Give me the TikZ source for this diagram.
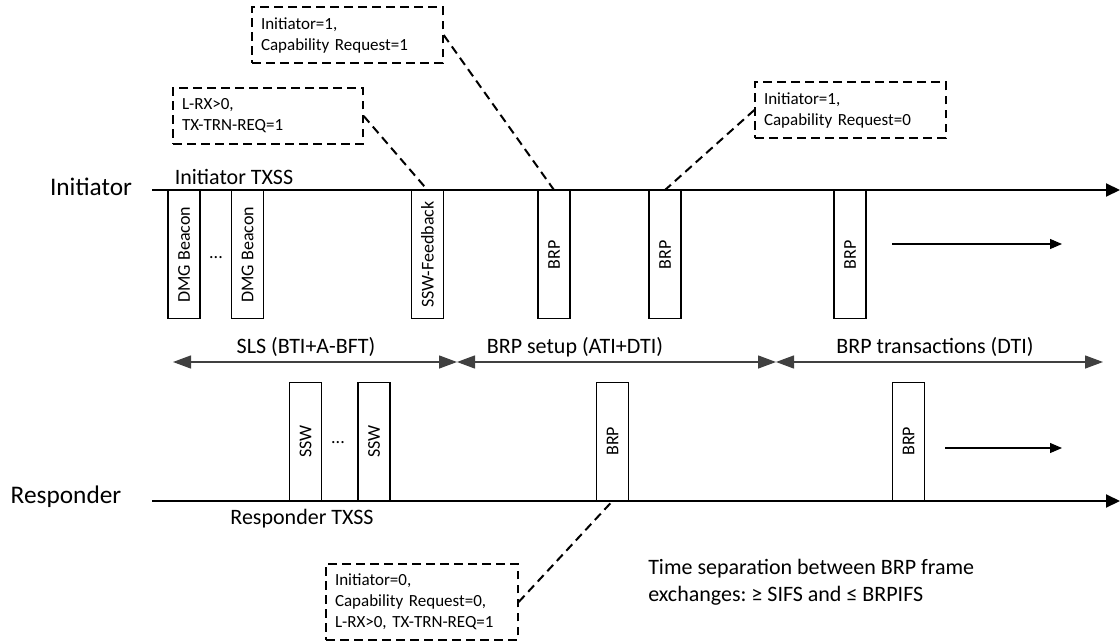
\documentclass[tikz,border=0pt]{standalone}
\usepackage{fontspec}
\setmainfont{Carlito}
\frenchspacing
\usetikzlibrary{arrows.meta}

\tikzset{
  frbox/.style={draw, line width=1.1pt, minimum width=24pt, inner sep=0pt,
    font=\fontsize{13.5}{16}\selectfont},
  callout/.style={draw, line width=1.5pt, dash pattern=on 6.5pt off 4pt,
    align=left, inner xsep=6.5pt, inner ysep=0pt,
    font=\fontsize{12.75}{15.75}\selectfont},
  biglbl/.style={inner sep=0pt, font=\fontsize{19}{22}\selectfont},
  lbl/.style={inner sep=0pt, font=\fontsize{16.5}{20}\selectfont},
  axis/.style={line width=1.5pt, -{Triangle[length=10.5pt,width=9.75pt]}},
  span/.style={line width=1pt, black!75,
    {Triangle[length=13.5pt,width=9.75pt]}-{Triangle[length=13.5pt,width=9.75pt]}},
  more/.style={line width=0.8pt, -{Triangle[length=9pt,width=7.5pt]}},
  link/.style={line width=1.5pt, dash pattern=on 6.5pt off 4pt}
}

\begin{document}
\begin{tikzpicture}[x=0.75pt,y=-0.75pt]

% Bildgrenzen (in Pixeln)
\useasboundingbox (0,0) rectangle (1120,642);

% Zeitachsen
\def\yini{190}
\def\yres{501}
\def\yspan{362}

% ------------------- Initiator -------------------
\node[biglbl, anchor=base] (ini) at (91,195) {Initiator};
\node[lbl, anchor=base] (iniTx) at (234,184) {Initiator TXSS};
\coordinate (iniA) at (152,\yini);
\coordinate (iniB) at (1120,\yini);
\draw[axis] (iniA) -- (iniB);

\node[frbox, anchor=north, minimum height=96pt] (dmgA) at (184,\yini) {\rotatebox{90}{DMG Beacon}};
\node[frbox, anchor=north, minimum height=96pt] (dmgB) at (247.5,\yini) {\rotatebox{90}{DMG Beacon}};
\node[inner sep=0pt, font=\fontsize{13.5}{16}\selectfont] (dotsI) at (216,258) {...};
\node[frbox, anchor=north, minimum height=96pt] (sswFb) at (427.5,\yini) {\rotatebox{90}{SSW-Feedback}};
\node[frbox, anchor=north, minimum height=96pt] (brpA) at (554,\yini) {\rotatebox{90}{BRP}};
\node[frbox, anchor=north, minimum height=96pt] (brpB) at (665,\yini) {\rotatebox{90}{BRP}};
\node[frbox, anchor=north, minimum height=96pt] (brpC) at (850,\yini) {\rotatebox{90}{BRP}};
\coordinate (moreIA) at (892,244);
\coordinate (moreIB) at (1062,244);
\draw[more] (moreIA) -- (moreIB);

% ------------------- Phasen -------------------
\coordinate (sp0) at (173,\yspan);
\coordinate (sp1) at (457,\yspan);
\coordinate (sp2) at (776,\yspan);
\coordinate (sp3) at (1103,\yspan);
\draw[span] (sp0) -- (sp1);
\draw[span] (sp1) -- (sp2);
\draw[span] (sp2) -- (sp3);
\node[lbl, anchor=base] (slsL) at (306,353) {SLS (BTI+A-BFT)};
\node[lbl, anchor=base] (setupL) at (575,353) {BRP setup (ATI+DTI)};
\node[lbl, anchor=base] (transL) at (935,353) {BRP transactions (DTI)};

% ------------------- Responder -------------------
\node[biglbl, anchor=base] (res) at (66,503) {Responder};
\node[lbl, anchor=base] (resTx) at (302,524) {Responder TXSS};
\coordinate (resA) at (152,\yres);
\coordinate (resB) at (1120,\yres);
\draw[axis] (resA) -- (resB);

\node[frbox, anchor=south, minimum height=88.5pt] (sswA) at (305.5,\yres) {\rotatebox{90}{SSW}};
\node[frbox, anchor=south, minimum height=88.5pt] (sswB) at (374,\yres) {\rotatebox{90}{SSW}};
\node[inner sep=0pt, font=\fontsize{13.5}{16}\selectfont] (dotsR) at (338,443) {...};
\node[frbox, anchor=south, minimum height=88.5pt] (rbrpA) at (612.5,\yres) {\rotatebox{90}{BRP}};
\node[frbox, anchor=south, minimum height=88.5pt] (rbrpB) at (908.5,\yres) {\rotatebox{90}{BRP}};
\coordinate (moreRA) at (945,448);
\coordinate (moreRB) at (1062,448);
\draw[more] (moreRA) -- (moreRB);

% ------------------- Hinweise -------------------
\node[callout, text width=129.75pt, minimum height=42pt] (noteSetup) at (347.5,35)
  {Initiator=1,\\Capability Request=1};
\node[callout, text width=129pt, minimum height=42pt] (noteFb) at (268,116)
  {L-RX>0,\\TX-TRN-REQ=1};
\node[callout, text width=129.75pt, minimum height=42pt] (noteReq) at (850.5,110)
  {Initiator=1,\\Capability Request=0};
\node[callout, text width=130.5pt, minimum height=57pt] (noteResp) at (422,602)
  {Initiator=0,\\Capability Request=0,\\L-RX>0, TX-TRN-REQ=1};

\draw[link] (noteSetup.east) -- (brpA.north);
\draw[link] (noteFb.east) -- (sswFb.north);
\draw[link] (noteReq.west) -- (brpB.north);
\draw[link] (noteResp.east) -- (rbrpA.south);

\node[lbl, anchor=west, align=left, font=\fontsize{16.5}{20.25}\selectfont] (sepNote) at (648,582)
  {Time separation between BRP frame\\exchanges: ≥ SIFS and ≤ BRPIFS};

\end{tikzpicture}
\end{document}
